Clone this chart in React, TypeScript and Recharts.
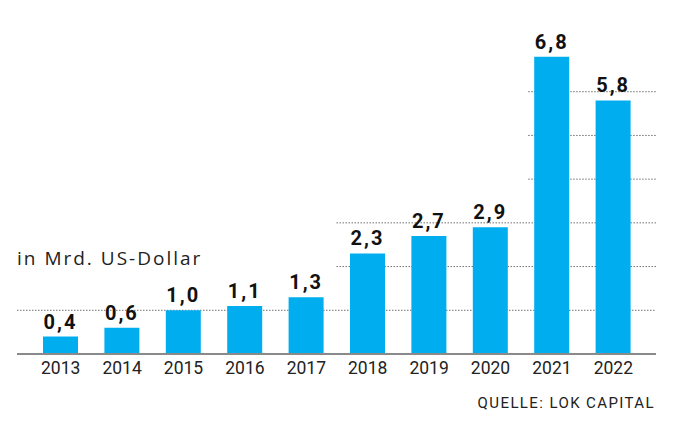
import { BarChart, Bar, XAxis, YAxis, CartesianGrid, LabelList } from 'recharts';

const years = ['2013', '2014', '2015', '2016', '2017', '2018', '2019', '2020', '2021', '2022'];
const investments = [0.4, 0.6, 1.0, 1.1, 1.3, 2.3, 2.7, 2.9, 6.8, 5.8];
const gridTicks = [1, 2, 3, 4, 5, 6];
// share of the plot width where each dotted gridline starts
const gridStart = [0, 0.5, 0.5, 0.8, 0.8, 0.8];

const Y_MAX = 7;
const BLUE = '#00aeef';
const FONT = 'Roboto, "Noto Sans", sans-serif';

const data = years.map((year, i) => ({ year, value: investments[i] }));

const fmt = (v: number) => v.toFixed(1).replace('.', ',');

const GridLine = (p: any) => {
    const v = Math.round((Y_MAX * (p.y + p.height - p.y1)) / p.height);
    const idx = gridTicks.indexOf(v);
    if (idx < 0) return <g key={p.key} />;
    const share = gridStart[idx];
    return (
        <line
            key={p.key}
            x1={p.x1 + share * (p.x2 - p.x1)}
            x2={p.x2}
            y1={p.y1}
            y2={p.y2}
            stroke="#6f6f6f"
            strokeWidth={1}
            strokeDasharray="1.5 1.5"
        />
    );
};

export default function App() {
    return (
        <div style={{ position: 'relative', width: 680, height: 421, background: '#fff', fontFamily: FONT }}>
            <style>{'body{margin:0}'}</style>
            <BarChart
                width={680}
                height={421}
                data={data}
                margin={{ top: 48, right: 24, bottom: 37, left: 17 }}
                barSize={35}
            >
                <CartesianGrid vertical={false} horizontal={GridLine} />
                <YAxis hide domain={[0, Y_MAX]} ticks={gridTicks} />
                <XAxis
                    dataKey="year"
                    height={30}
                    padding={{ left: 13, right: 12 }}
                    tickLine={false}
                    axisLine={{ stroke: '#8a8a8a', strokeWidth: 2 }}
                    tick={{ fill: '#222', fontSize: 17.5, fontFamily: FONT }}
                    interval={0}
                />
                <Bar dataKey="value" fill={BLUE} isAnimationActive={false}>
                    <LabelList
                        dataKey="value"
                        position="top"
                        offset={8}
                        formatter={(v: any) => fmt(Number(v))}
                        style={{ fill: '#111', fontSize: 20, fontWeight: 700, fontFamily: FONT, letterSpacing: 2 }}
                    />
                </Bar>
            </BarChart>
            <div style={{ position: 'absolute', left: 17, top: 247, fontSize: 19, fontFamily: '"Open Sans", sans-serif', color: '#222', letterSpacing: 2, lineHeight: 1.2 }}>
                in Mrd. US-Dollar
            </div>
            <div style={{ position: 'absolute', right: 25, top: 394, fontSize: 15, color: '#222', letterSpacing: 1.4, lineHeight: 1.2 }}>
                QUELLE: LOK CAPITAL
            </div>
        </div>
    );
}
